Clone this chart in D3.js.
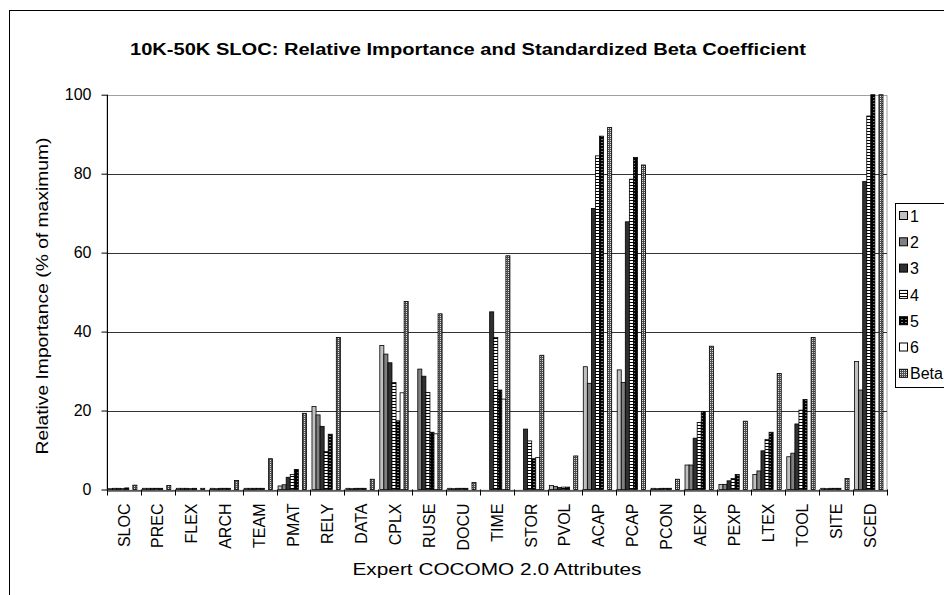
<!DOCTYPE html>
<html><head><meta charset="utf-8">
<script src="https://cdn.jsdelivr.net/npm/d3@7"></script>
<style>body{margin:0;background:#fff}svg{display:block;font-family:"Liberation Sans",Arial,sans-serif}</style>
</head><body><svg id="c" width="944" height="595"></svg>
<script>
const categories = ["SLOC","PREC","FLEX","ARCH","TEAM","PMAT","RELY","DATA","CPLX","RUSE","DOCU","TIME","STOR","PVOL","ACAP","PCAP","PCON","AEXP","PEXP","LTEX","TOOL","SITE","SCED"];
const seriesNames = ["1","2","3","4","5","6","Beta"];
const s1   = [0.2,0.3,0.3,0.3,0.3,0.9,21.0,0.3,36.5,0,0.3,0,0,1.0,31.1,30.3,0.3,6.2,1.3,3.8,8.3,0.3,32.4];
const s2   = [0.3,0.3,0.3,0.2,0.3,1.2,18.9,0.2,34.3,30.5,0.2,0,0,0.8,26.9,27.1,0.2,6.2,1.3,4.7,9.2,0.2,25.2];
const s3   = [0.3,0.3,0.3,0.3,0.3,3.1,16.0,0.3,32.1,28.7,0.3,45.0,15.3,0.5,71.2,67.8,0.3,13.0,2.2,9.8,16.6,0.3,78.0];
const s4   = [0.2,0.3,0.2,0.3,0.3,3.8,9.6,0.3,27.1,24.6,0.3,38.5,12.3,0.6,84.5,78.6,0.3,17.0,2.8,12.7,20.1,0.3,94.6];
const s5   = [0.4,0.3,0.3,0.3,0.3,5.1,14.0,0.3,17.4,14.5,0.3,25.2,7.8,0.6,89.5,84.1,0.3,19.7,3.8,14.5,22.8,0.3,100];
const s6   = [0,0,0,0,0,0,0,0,24.5,14.1,0,22.9,8.1,0,0,0,0,0,0,0,0,0,0];
const beta = [1.1,1.0,0.3,2.3,7.8,19.3,38.5,2.6,47.6,44.5,1.8,59.2,34.0,8.5,91.7,82.2,2.6,36.3,17.3,29.4,38.5,2.8,100];
const yTicks = [0,20,40,60,80,100];
const allSeries = [s1,s2,s3,s4,s5,s6,beta];

const svg = d3.select("#c");
const defs = svg.append("defs");
const p4 = defs.append("pattern").attr("id","p4").attr("patternUnits","userSpaceOnUse").attr("width",4).attr("height",3);
p4.append("rect").attr("width",4).attr("height",3).attr("fill","#fff");
p4.append("rect").attr("y",2).attr("width",4).attr("height",1).attr("fill","#000");
const p5 = defs.append("pattern").attr("id","p5").attr("patternUnits","userSpaceOnUse").attr("width",4).attr("height",3);
p5.append("rect").attr("width",4).attr("height",3).attr("fill","#000");
p5.append("rect").attr("x",1.5).attr("y",1).attr("width",1).attr("height",1).attr("fill","#fff");
const pb = defs.append("pattern").attr("id","pb").attr("patternUnits","userSpaceOnUse").attr("width",2).attr("height",2);
pb.append("rect").attr("width",2).attr("height",2).attr("fill","#505050");
pb.append("rect").attr("x",0).attr("y",0).attr("width",1).attr("height",1).attr("fill","#e0e0e0");
const fills = ["#c0c0c0","#808080","#303030","url(#p4)","url(#p5)","#ffffff","url(#pb)"];

svg.append("rect").attr("x",9.5).attr("y",10.5).attr("width",1000).attr("height",700).attr("fill","none").attr("stroke","#000");

const L=107, R=887, T=94.7, B=489.5;
const x = d3.scaleBand().domain(categories).range([L,R]).padding(0);
const xi = d3.scaleBand().domain(seriesNames).range([1.5, 1.5+28.4]).padding(0);
const y = d3.scaleLinear().domain([0,100]).range([B,T]);

svg.append("rect").attr("x",L).attr("y",Math.round(T)+0.5).attr("width",R-L).attr("height",B-T).attr("fill","none").attr("stroke","#a0a0a0");
svg.append("g").selectAll("line").data(yTicks.filter(d=>d>0&&d<100)).join("line")
  .attr("x1",L).attr("x2",R).attr("y1",d=>Math.round(y(d))+0.5).attr("y2",d=>Math.round(y(d))+0.5)
  .attr("stroke","#333").attr("stroke-width",1);

allSeries.forEach((vals,si)=>{
  svg.append("g").selectAll("rect").data(vals).join("rect")
    .attr("x",(d,i)=>x(categories[i])+xi(seriesNames[si]))
    .attr("y",d=>y(d))
    .attr("width",xi.bandwidth())
    .attr("height",d=>B-y(d))
    .attr("fill",fills[si])
    .attr("stroke","#000").attr("stroke-width",0.8);
});

const ya = svg.append("g").attr("transform",`translate(${L+0.5},0)`)
  .call(d3.axisLeft(y).tickValues(yTicks).tickSize(6).tickPadding(10));
ya.select(".domain").attr("stroke","#000").attr("d",`M0,${T}V${B}`);
ya.selectAll(".tick line").attr("stroke","#000");
ya.selectAll(".tick text").attr("font-size",16).attr("font-family","Liberation Sans, Arial").attr("fill","#000");

const xa = svg.append("g").attr("transform",`translate(0,${Math.round(B)+0.5})`)
  .call(d3.axisBottom(x).tickSize(0).tickSizeOuter(0));
xa.select(".domain").attr("stroke","#000");
xa.selectAll(".tick text").attr("font-size",16).attr("font-family","Liberation Sans, Arial").attr("fill","#000")
  .attr("transform","rotate(-90)").attr("text-anchor","end").attr("x",-13).attr("y",0).attr("dy","0.35em");
svg.append("g").selectAll("line").data(d3.range(categories.length+1)).join("line")
  .attr("x1",i=>Math.round(L+i*x.step())+0.5).attr("x2",i=>Math.round(L+i*x.step())+0.5)
  .attr("y1",B).attr("y2",B+6).attr("stroke","#000");

svg.append("text").attr("x",468).attr("y",55).attr("text-anchor","middle").attr("font-size",16).attr("font-weight","bold")
  .attr("textLength",676).attr("lengthAdjust","spacingAndGlyphs")
  .text("10K-50K SLOC: Relative Importance and Standardized Beta Coefficient");
svg.append("text").attr("transform","translate(42,296) rotate(-90)").attr("text-anchor","middle").attr("dy","0.35em").attr("font-size",17)
  .attr("textLength",317).attr("lengthAdjust","spacingAndGlyphs")
  .text("Relative Importance (% of maximum)");
svg.append("text").attr("x",497).attr("y",575).attr("text-anchor","middle").attr("font-size",17)
  .attr("textLength",289).attr("lengthAdjust","spacingAndGlyphs")
  .text("Expert COCOMO 2.0 Attributes");

const lg = svg.append("g");
lg.append("rect").attr("x",895.5).attr("y",203.5).attr("width",100).attr("height",184).attr("fill","#fff").attr("stroke","#000");
seriesNames.forEach((n,i)=>{
  const yy = 216 + i*26.3;
  lg.append("rect").attr("x",899.5).attr("y",yy-4.5).attr("width",8).attr("height",8).attr("fill",fills[i]).attr("stroke","#000");
  lg.append("text").attr("x",910).attr("y",yy).attr("dy","0.35em").attr("font-size",16).text(n);
});
</script></body></html>
